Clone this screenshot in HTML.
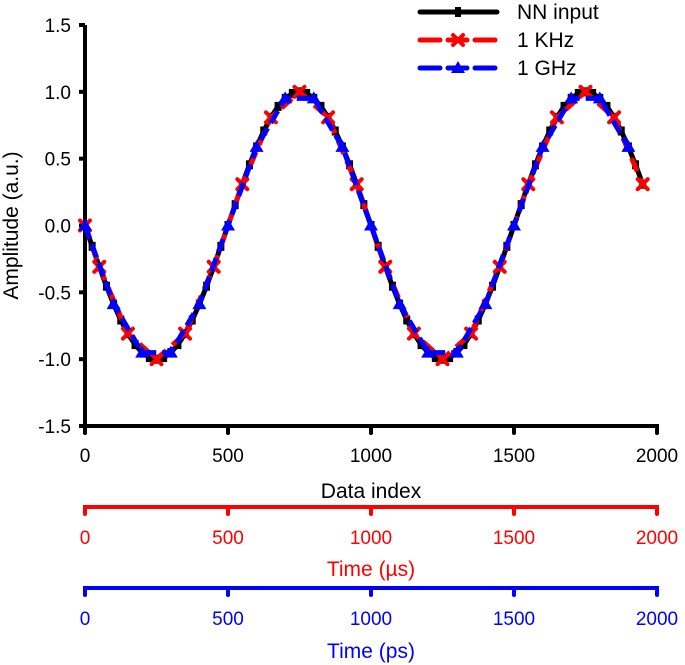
<!DOCTYPE html>
<html><head><meta charset="utf-8"><style>
html,body{margin:0;padding:0;background:#fff;}
svg{display:block;font-family:"Liberation Sans",Arial,sans-serif;}
</style></head><body>
<svg id="chart" width="685" height="665"></svg>
<script>
const idxBlack = [0,25,50,75,100,125,150,175,200,225,250,275,300,325,350,375,400,425,450,475,500,525,550,575,600,625,650,675,700,725,750,775,800,825,850,875,900,925,950,975,1000,1025,1050,1075,1100,1125,1150,1175,1200,1225,1250,1275,1300,1325,1350,1375,1400,1425,1450,1475,1500,1525,1550,1575,1600,1625,1650,1675,1700,1725,1750,1775,1800,1825,1850,1875,1900,1925,1950];
const valBlack = [0,-0.156,-0.309,-0.454,-0.588,-0.707,-0.809,-0.891,-0.951,-0.988,-1,-0.988,-0.951,-0.891,-0.809,-0.707,-0.588,-0.454,-0.309,-0.156,0,0.156,0.309,0.454,0.588,0.707,0.809,0.891,0.951,0.988,1,0.988,0.951,0.891,0.809,0.707,0.588,0.454,0.309,0.156,0,-0.156,-0.309,-0.454,-0.588,-0.707,-0.809,-0.891,-0.951,-0.988,-1,-0.988,-0.951,-0.891,-0.809,-0.707,-0.588,-0.454,-0.309,-0.156,0,0.156,0.309,0.454,0.588,0.707,0.809,0.891,0.951,0.988,1,0.988,0.951,0.891,0.809,0.707,0.588,0.454,0.309];
const idxRed = [0,50,150,250,350,450,550,650,750,850,950,1050,1150,1250,1350,1450,1550,1650,1750,1850,1950];
const valRed = [0,-0.309,-0.809,-1,-0.809,-0.309,0.309,0.809,1,0.809,0.309,-0.309,-0.809,-1,-0.809,-0.309,0.309,0.809,1,0.809,0.309];
const idxBlue = [0,100,200,300,400,500,600,700,800,900,1000,1100,1200,1300,1400,1500,1600,1700,1800,1900];
const valBlue = [0,-0.588,-0.951,-0.951,-0.588,0,0.588,0.951,0.951,0.588,0,-0.588,-0.951,-0.951,-0.588,0,0.588,0.951,0.951,0.588];
const xTicks = [0,500,1000,1500,2000];
const yTicks = [-1.5,-1.0,-0.5,0.0,0.5,1.0,1.5];
const legendLabels = ["NN input","1 KHz","1 GHz"];

const NS="http://www.w3.org/2000/svg";
const svg=document.getElementById('chart');
const X0=85,X1=657,Y0=426,Y1=25;
const sx=v=>X0+(v-0)/(2000-0)*(X1-X0);
const sy=v=>Y0-(v+1.5)/3*(Y0-Y1);
function mk(tag,attrs,parent){const e=document.createElementNS(NS,tag);for(const k in attrs)e.setAttribute(k,attrs[k]);(parent||svg).appendChild(e);return e;}
function txt(x,y,s,fill,anchor,size){const t=mk('text',{x:x,y:y,fill:fill,'text-anchor':anchor,'font-size':size||19});t.textContent=s;return t;}

let e=mk('line',{x1:X0,y1:Y1,x2:X0,y2:Y0+2,stroke:'#000','stroke-width':4});


yTicks.forEach(v=>{
  let t=mk('line',{x1:X0-6,y1:sy(v),x2:X0,y2:sy(v),stroke:'#000','stroke-width':4});
  
  
  let l=txt(71,sy(v)+7,v.toFixed(1),'#000','end');
  
  
});
e=txt(0,0,'Amplitude (a.u.)','#000','middle',21);
e.setAttribute('transform','translate(18,'+((Y0+Y1)/2)+') rotate(-90)');



function hAxis(y,color,labY,title,titleY,name){
  let a=mk('line',{x1:X0-2,y1:y,x2:X1+2,y2:y,stroke:color,'stroke-width':4});
  
  
  xTicks.forEach(v=>{
    let t=mk('line',{x1:sx(v),y1:y,x2:sx(v),y2:y+7,stroke:color,'stroke-width':4,'stroke-linecap':'round'});
    
    
    let l=txt(sx(v),labY,String(v),color,'middle');
    
    
  });
  let tt=txt((X0+X1)/2,titleY,title,color,'middle',21);
  
  
}
hAxis(Y0,'#000',462,'Data index',498,'x');
hAxis(507,'#f00',544,'Time (µs)',576,'time-us');
hAxis(588,'#00f',625,'Time (ps)',658,'time-ps');

function pts(ix,vals){return ix.map((x,i)=>sx(x)+','+sy(vals[i])).join(' ');}
e=mk('polyline',{points:pts(idxBlack,valBlack),fill:'none',stroke:'#000','stroke-width':5});


idxBlack.forEach((x,i)=>{
  let m=mk('rect',{x:sx(x)-3.5,y:sy(valBlack[i])-4.5,width:7,height:9,fill:'#000'});
  
  
});
e=mk('polyline',{points:pts(idxRed,valRed),fill:'none',stroke:'#f00','stroke-width':5,'stroke-dasharray':'14 8'});


function cross(cx,cy){const g=mk('g',{stroke:'#f00','stroke-width':4,'stroke-linecap':'round'});mk('line',{x1:cx-5,y1:cy-5,x2:cx+5,y2:cy+5},g);mk('line',{x1:cx-5,y1:cy+5,x2:cx+5,y2:cy-5},g);return g;}
idxRed.forEach((x,i)=>{
  let m=cross(sx(x),sy(valRed[i]));
  
  
});
e=mk('polyline',{points:pts(idxBlue,valBlue),fill:'none',stroke:'#00f','stroke-width':5,'stroke-dasharray':'14 6'});


function tri(cx,cy){return mk('polygon',{points:(cx)+','+(cy-7)+' '+(cx-7)+','+(cy+5)+' '+(cx+7)+','+(cy+5),fill:'#00f'});}
idxBlue.forEach((x,i)=>{
  let m=tri(sx(x),sy(valBlue[i]));
  
  
});

const lc=['#000','#f00','#00f'];
legendLabels.forEach((s,i)=>{
  const y=12+i*28;
  const g=mk('g',{});
  
  
  if(i===0){mk('line',{x1:420,y1:y,x2:497,y2:y,stroke:'#000','stroke-width':5,'stroke-linecap':'round'},g);mk('rect',{x:455,y:y-5,width:6,height:10,fill:'#000'},g);}
  else{
    mk('line',{x1:420,y1:y,x2:440,y2:y,stroke:lc[i],'stroke-width':5,'stroke-linecap':'round'},g);
    mk('line',{x1:448,y1:y,x2:467,y2:y,stroke:lc[i],'stroke-width':5,'stroke-linecap':'round'},g);
    mk('line',{x1:475,y1:y,x2:495,y2:y,stroke:lc[i],'stroke-width':5,'stroke-linecap':'round'},g);
    if(i===1){const c=cross(458,y);g.appendChild(c);}else{const t=tri(458,y);g.appendChild(t);}
  }
  const t=txt(517,y+7,s,'#000','start',21);g.appendChild(t);
});
</script>
</body></html>
